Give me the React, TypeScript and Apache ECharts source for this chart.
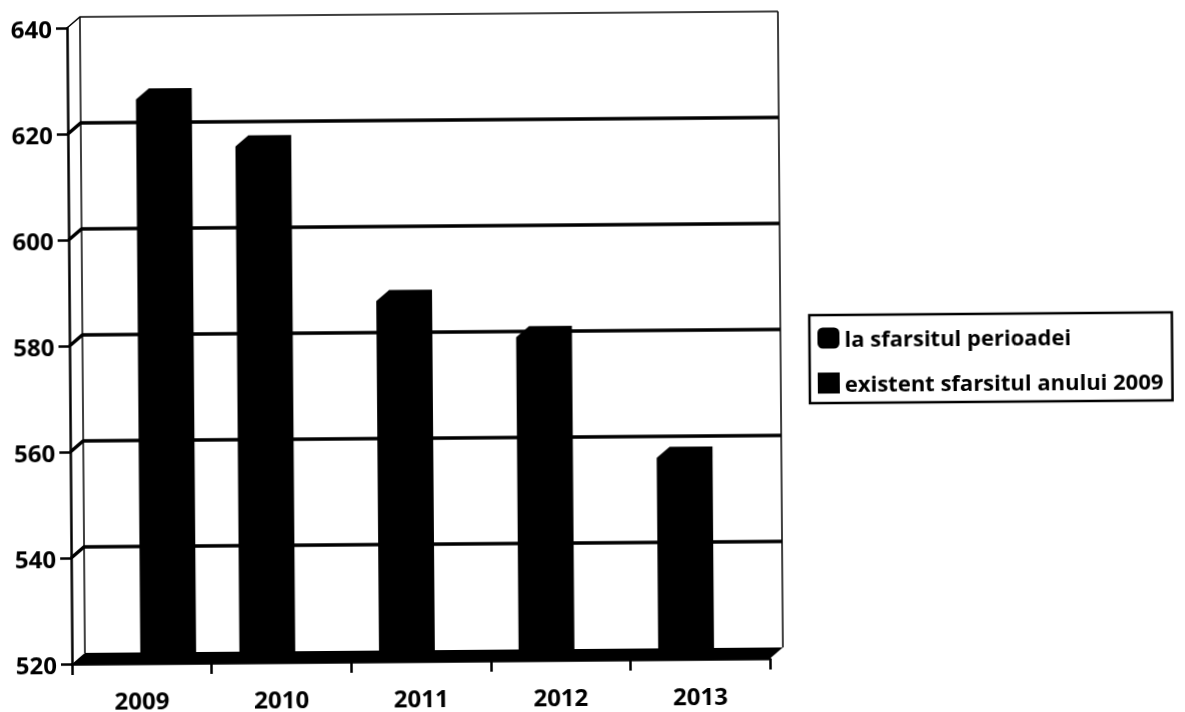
import React, { useEffect, useRef } from "react";
import * as echarts from "echarts";

const years = ["2009", "2010", "2011", "2012", "2013"];
const laSfarsitul: (number | null)[] = [null, 617.4, 588, 581, 558];
const existent: (number | null)[] = [626.4, null, null, null, null];
const gridTicks = [520, 540, 560, 580, 600, 620, 640];
const seriesNames = ["la sfarsitul perioadei", "existent sfarsitul anului 2009"];

const FONT = "'Open Sans', sans-serif";
const DX = 13;
const DY = 11;

const toPoints = (arr: (number | null)[]) =>
  arr.map((v, i) => (v == null ? null : [i, v])).filter(Boolean) as number[][];

const barRenderer = (offsetFrac: number, widthFrac: number) => (params: any, api: any) => {
  const p = api.coord([api.value(0), api.value(1)]);
  const base = api.coord([api.value(0), 520]);
  const band = api.size([1, 0])[0];
  const x0 = p[0] + band * offsetFrac - (band * widthFrac) / 2;
  const x1 = x0 + band * widthFrac;
  return {
    type: "polygon",
    shape: {
      points: [
        [x0, base[1]],
        [x0, p[1]],
        [x0 + DX, p[1] - DY],
        [x1, p[1] - DY],
        [x1, base[1]],
      ],
    },
    style: { fill: "#000" },
  };
};

const wallRenderer = (params: any, api: any) => {
  const v = api.value(1);
  const y = api.coord([0, v])[1];
  const cs = params.coordSys;
  const left = cs.x;
  const right = cs.x + cs.width;
  const isFloor = v === 520;
  const isTop = v === 640;
  const children: any[] = [];
  if (!isFloor) {
    children.push({
      type: "polyline",
      shape: { points: [[left, y], [left + DX, y - DY], [right + DX, y - DY]] },
      style: { fill: "none", stroke: "#000", lineWidth: isTop ? 1.5 : 3.5 },
    });
  } else {
    children.push({
      type: "line",
      shape: { x1: left + DX, y1: y - DY, x2: left + DX, y2: cs.y - DY },
      style: { stroke: "#000", lineWidth: 1.5 },
    });
    children.push({
      type: "line",
      shape: { x1: right + DX, y1: y - DY, x2: right + DX, y2: cs.y - DY },
      style: { stroke: "#000", lineWidth: 1.5 },
    });
  }
  return { type: "group", children };
};

const floorRenderer = (params: any, api: any) => {
  const y = api.coord([0, api.value(1)])[1];
  const cs = params.coordSys;
  const left = cs.x;
  const right = cs.x + cs.width;
  return {
    type: "polygon",
    shape: {
      points: [
        [left, y],
        [left + DX, y - DY],
        [right + DX, y - DY],
        [right, y],
      ],
    },
    style: { fill: "#000" },
  };
};

export default function App() {
  const ref = useRef<HTMLDivElement>(null);
  useEffect(() => {
    const chart = echarts.init(ref.current!, null, { renderer: "svg" });
    chart.setOption({
      animation: false,
      backgroundColor: "#fff",
      grid: { left: 72, top: 28, width: 698, height: 638, containLabel: false },
      legend: {
        orient: "vertical",
        left: 812,
        top: 321,
        data: [
          { name: seriesNames[0], icon: "roundRect" },
          { name: seriesNames[1], icon: "rect" },
        ],
        itemWidth: 22,
        itemHeight: 21,
        itemGap: 23,
        padding: [12, 9, 9, 8],
        borderColor: "#000",
        borderWidth: 2.5,
        backgroundColor: "#fff",
        selectedMode: false,
        textStyle: { fontFamily: FONT, fontWeight: "bold", fontSize: 22, color: "#000" },
      },
      xAxis: {
        type: "category",
        data: years,
        boundaryGap: true,
        axisLine: { show: true, lineStyle: { color: "#000", width: 2.5 } },
        axisTick: { show: true, length: 11, alignWithLabel: false, lineStyle: { color: "#000", width: 2.5 } },
        axisLabel: { fontFamily: FONT, fontWeight: "bold", fontSize: 24, color: "#000", margin: 24 },
        splitLine: { show: false },
      },
      yAxis: {
        type: "value",
        min: 520,
        max: 640,
        interval: 20,
        axisLine: { show: true, lineStyle: { color: "#000", width: 2.5 } },
        axisTick: { show: true, length: 11, lineStyle: { color: "#000", width: 2.5 } },
        axisLabel: { fontFamily: FONT, fontWeight: "bold", fontSize: 24, color: "#000", margin: 15 },
        splitLine: { show: false },
      },
      series: [
        {
          type: "custom",
          name: "walls",
          silent: true,
          z: 1,
          renderItem: wallRenderer,
          encode: { x: 0, y: 1 },
          data: gridTicks.map((t) => [0, t]),
        },
        {
          type: "custom",
          name: "floor",
          silent: true,
          z: 2,
          renderItem: floorRenderer,
          encode: { x: 0, y: 1 },
          data: [[0, gridTicks[0]]],
        },
        {
          type: "custom",
          name: seriesNames[0],
          z: 3,
          itemStyle: { color: "#000" },
          renderItem: barRenderer(-0.1, 0.4),
          encode: { x: 0, y: 1 },
          data: toPoints(laSfarsitul),
        },
        {
          type: "custom",
          name: seriesNames[1],
          z: 3,
          itemStyle: { color: "#000" },
          renderItem: barRenderer(0.19, 0.4),
          encode: { x: 0, y: 1 },
          data: toPoints(existent),
        },
      ],
    });
    return () => chart.dispose();
  }, []);
  return (
    <div
      ref={ref}
      style={{
        position: "fixed",
        left: 0,
        top: 0,
        width: 1185,
        height: 712,
        transform: "rotate(-0.45deg)",
        transformOrigin: "72px 666px",
      }}
    />
  );
}
